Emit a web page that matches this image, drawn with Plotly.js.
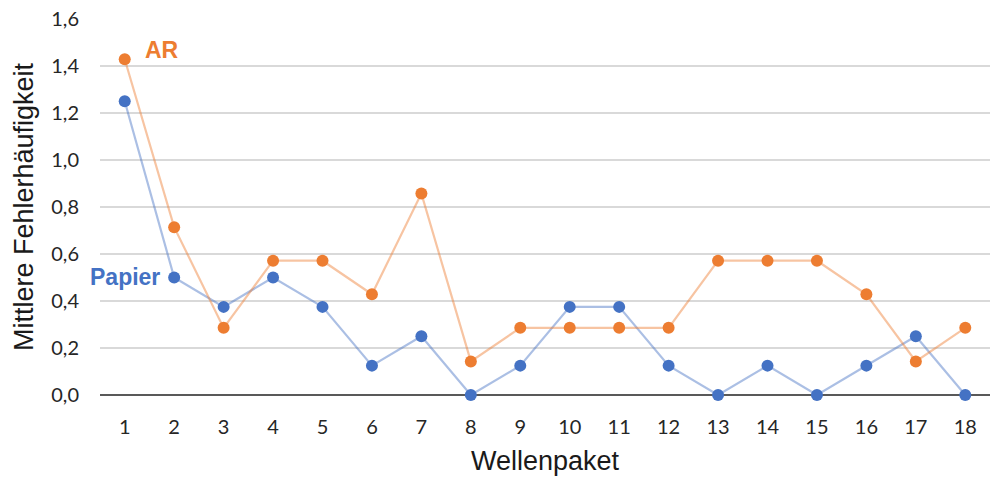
<!DOCTYPE html>
<html><head><meta charset="utf-8">
<script src="https://cdn.plot.ly/plotly-3.0.1.min.js"></script>
<style>body{margin:0;background:#fff}#c{width:990px;height:477px}</style>
</head><body><div id="c"></div>
<script>
const wellenpakete = ["1","2","3","4","5","6","7","8","9","10","11","12","13","14","15","16","17","18"];
const arWerte = [1.4286,0.7143,0.2857,0.5714,0.5714,0.4286,0.8571,0.1429,0.2857,0.2857,0.2857,0.2857,0.5714,0.5714,0.5714,0.4286,0.1429,0.2857];
const papierWerte = [1.25,0.5,0.375,0.5,0.375,0.125,0.25,0,0.125,0.375,0.375,0.125,0,0.125,0,0.125,0.25,0];
const yTicks = [0,0.2,0.4,0.6,0.8,1.0,1.2,1.4,1.6];

const traces = [
  {x: wellenpakete, y: papierWerte, type:'scatter', mode:'lines+markers', name:'Papier',
   line:{color:'rgba(68,114,196,0.45)', width:2.2}, marker:{color:'#4472C4', size:12}, cliponaxis:false},
  {x: wellenpakete, y: arWerte, type:'scatter', mode:'lines+markers', name:'AR',
   line:{color:'rgba(237,125,49,0.45)', width:2.2}, marker:{color:'#ED7D31', size:12}, cliponaxis:false}
];
const layout = {
  width:990, height:477,
  margin:{l:100, r:0, t:19, b:82},
  showlegend:false,
  separators:',.',
  paper_bgcolor:'#fff', plot_bgcolor:'#fff',
  font:{family:'Lato, Open Sans, sans-serif', color:'#262626'},
  xaxis:{type:'category', range:[-0.5,17.5], showgrid:false, zeroline:false, showline:false,
    ticks:'', tickfont:{size:20, color:'#262626'}, ticklabelstandoff:18, automargin:false,
    title:{text:'Wellenpaket', font:{family:'Liberation Sans, Arial, sans-serif', size:27, color:'#1a1a1a'}, standoff:14}},
  yaxis:{range:[0,1.6], tickvals:yTicks, tickformat:'.1f', showgrid:true, gridcolor:'#d9d9d9', gridwidth:1.3,
    zeroline:true, zerolinecolor:'#595959', zerolinewidth:1.5, showline:false, ticks:'', automargin:false,
    tickfont:{size:20, color:'#262626'}, ticklabelstandoff:20,
    title:{text:'Mittlere Fehlerhäufigkeit', font:{family:'Liberation Sans, Arial, sans-serif', size:27, color:'#1a1a1a'}, standoff:9}},
  annotations:[
    {x:0.75, y:1.468, xref:'x', yref:'y', text:'<b>AR</b>', showarrow:false, xanchor:'center', yanchor:'middle',
     font:{family:'Liberation Sans, Arial, sans-serif', size:23, color:'#ED7D31'}},
    {x:0.75, y:0.502, xref:'x', yref:'y', text:'<b>Papier</b>', showarrow:false, xanchor:'right', yanchor:'middle',
     font:{family:'Liberation Sans, Arial, sans-serif', size:23, color:'#4472C4'}}
  ]
};
Plotly.newPlot('c', traces, layout, {displayModeBar:false, staticPlot:true});
</script></body></html>
